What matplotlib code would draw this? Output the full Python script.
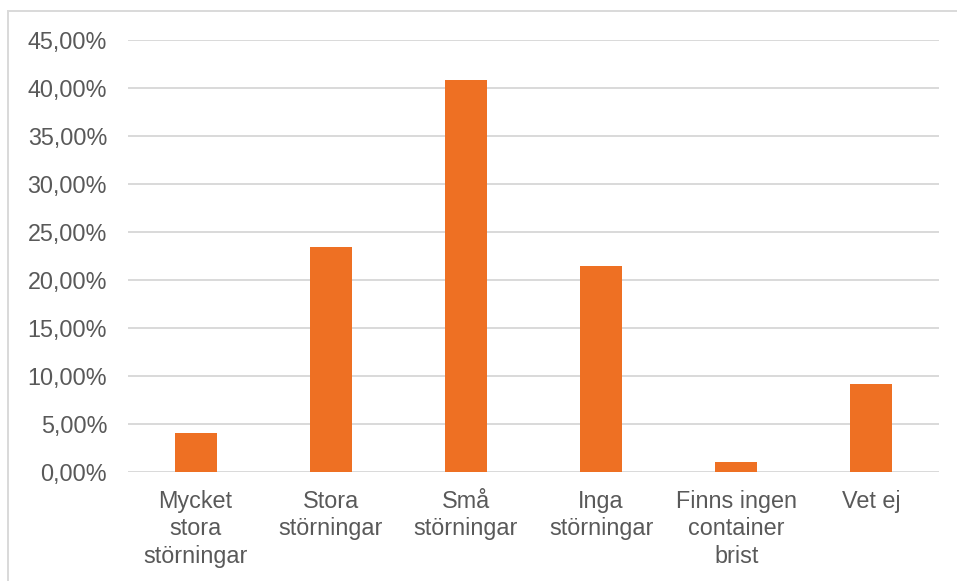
import matplotlib
matplotlib.use('Agg')
import matplotlib.pyplot as plt
from matplotlib.patches import Rectangle
from matplotlib.ticker import FuncFormatter

# Data (share of answers)
kategorier = ['Mycket\nstora\nstörningar', 'Stora\nstörningar', 'Små\nstörningar',
              'Inga\nstörningar', 'Finns ingen\ncontainer\nbrist', 'Vet ej']
andelar = [4.08, 23.47, 40.82, 21.43, 1.02, 9.18]

plt.rcParams['font.family'] = ['Liberation Sans', 'DejaVu Sans']
textfarg = '#595959'
gridfarg = '#D9D9D9'

fig = plt.figure(figsize=(9.57, 5.81), dpi=100)
ax = fig.add_axes([128 / 957, 1 - 472 / 581, (939 - 128) / 957, (472 - 40) / 581])

x = range(len(kategorier))
ax.bar(x, andelar, width=0.31, color='#EE7023', zorder=3)

ax.set_xlim(-0.5, len(kategorier) - 0.5)
ax.set_ylim(0, 45)
ax.set_yticks(range(0, 46, 5))
ax.yaxis.set_major_formatter(FuncFormatter(lambda v, p: f'{v:.2f}'.replace('.', ',') + '%'))
ax.set_xticks(list(x))
ax.set_xticklabels(kategorier, linespacing=1.24)

ax.grid(axis='y', color=gridfarg, linewidth=1.4, zorder=0)
for s in ax.spines.values():
    s.set_visible(False)
ax.tick_params(axis='both', length=0, labelsize=16.8, labelcolor=textfarg)
ax.tick_params(axis='y', pad=15)
ax.tick_params(axis='x', pad=13)

# ram runt diagrammet (bara vänster och övre kant syns)
fig.patches.append(Rectangle((8 / 957, -0.2), 1.2, 1.2 - 10.5 / 581, transform=fig.transFigure,
                             fill=False, edgecolor=gridfarg, linewidth=1.4))

fig.savefig('out.png', dpi=100)
